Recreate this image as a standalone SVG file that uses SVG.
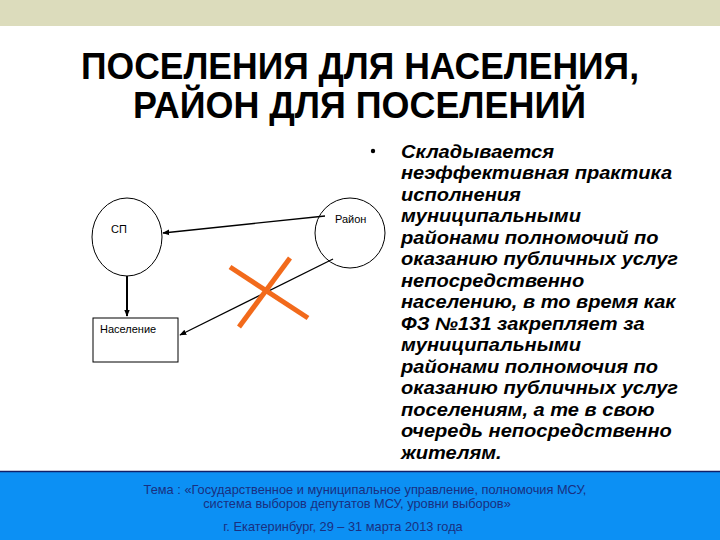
<svg xmlns="http://www.w3.org/2000/svg" width="720" height="540" viewBox="0 0 720 540">
<defs>
<style>
.title{font-family:"Liberation Sans Narrow","Liberation Sans",Arial,sans-serif;font-weight:bold;font-size:36px;fill:#000;text-anchor:start}
.lbl{font-family:"Liberation Sans",Arial,sans-serif;font-size:11px;fill:#000}
.body{font-family:"Liberation Sans",Arial,sans-serif;font-size:18px;font-weight:bold;font-style:italic;fill:#000}
.foot{font-family:"Liberation Sans",Arial,sans-serif;font-size:12.8px;fill:#1a2f80;text-anchor:middle}
.node{fill:#fff;stroke:#000;stroke-width:1}
.conn{stroke:#000;stroke-width:1.3;fill:none;marker-end:url(#ah)}
.cross{stroke:#f26a1b;stroke-width:5;stroke-linecap:butt}
</style>
<marker id="ah" viewBox="0 0 10 10" refX="9" refY="5" markerWidth="7" markerHeight="7" orient="auto" markerUnits="userSpaceOnUse">
<path d="M0,1 L10,5 L0,9 z" fill="#000"/>
</marker>
</defs>
<rect x="0" y="0" width="720" height="540" fill="#fff"/>
<rect x="0" y="0" width="720" height="26" fill="#dcdcbc"/>
<g id="title">
<text class="title" x="81" y="79" textLength="558" lengthAdjust="spacingAndGlyphs">ПОСЕЛЕНИЯ ДЛЯ НАСЕЛЕНИЯ,</text>
<text class="title" x="133" y="118" textLength="453" lengthAdjust="spacingAndGlyphs">РАЙОН ДЛЯ ПОСЕЛЕНИЙ</text>
</g>
<g id="node-sp">
<ellipse class="node" cx="127" cy="237" rx="35" ry="39"/>
<text class="lbl" x="111" y="233">СП</text>
</g>
<g id="node-rayon">
<ellipse class="node" cx="350" cy="233" rx="35" ry="35"/>
<text class="lbl" x="335" y="223">Район</text>
</g>
<g id="node-naselenie">
<rect class="node" x="93" y="318" width="85" height="44"/>
<text class="lbl" x="100" y="333">Население</text>
</g>
<g id="connectors">
<line class="conn" x1="325" y1="216" x2="163" y2="233"/>
<line x1="127" y1="276" x2="127" y2="316" stroke="#000" stroke-width="2" marker-end="url(#ah)"/>
<line class="conn" x1="333" y1="259" x2="180" y2="335"/>
</g>
<g id="cross">
<line class="cross" x1="230" y1="267" x2="308" y2="318"/>
<line class="cross" x1="290" y1="258" x2="239" y2="327"/>
</g>
<g id="bullet-text">
<circle cx="373" cy="151" r="2.2" fill="#000"/>
<text class="body" transform="translate(401,0) scale(1.115,1) translate(-401,0)">
<tspan x="401" y="158">Складывается</tspan>
<tspan x="401" y="179.5">неэффективная практика</tspan>
<tspan x="401" y="201">исполнения</tspan>
<tspan x="401" y="222.5">муниципальными</tspan>
<tspan x="401" y="244">районами полномочий по</tspan>
<tspan x="401" y="265.5">оказанию публичных услуг</tspan>
<tspan x="401" y="287">непосредственно</tspan>
<tspan x="401" y="308.5">населению, в то время как</tspan>
<tspan x="401" y="330">ФЗ №131 закрепляет за</tspan>
<tspan x="401" y="351.5">муниципальными</tspan>
<tspan x="401" y="373">районами полномочия по</tspan>
<tspan x="401" y="394.5">оказанию публичных услуг</tspan>
<tspan x="401" y="416">поселениям, а те в свою</tspan>
<tspan x="401" y="437.5">очередь непосредственно</tspan>
<tspan x="401" y="459">жителям.</tspan>
</text>
</g>
<g id="footer">
<rect x="0" y="471" width="720" height="69" fill="#0c90f4"/>
<line x1="0" y1="471.5" x2="720" y2="471.5" stroke="#10206a" stroke-width="1.5"/>
<text class="foot" x="365" y="494">Тема : «Государственное и муниципальное управление, полномочия МСУ,</text>
<text class="foot" x="357" y="508">система выборов депутатов МСУ, уровни  выборов»</text>
<text class="foot" x="343" y="531">г. Екатеринбург, 29 – 31 марта 2013 года</text>
</g>
</svg>
